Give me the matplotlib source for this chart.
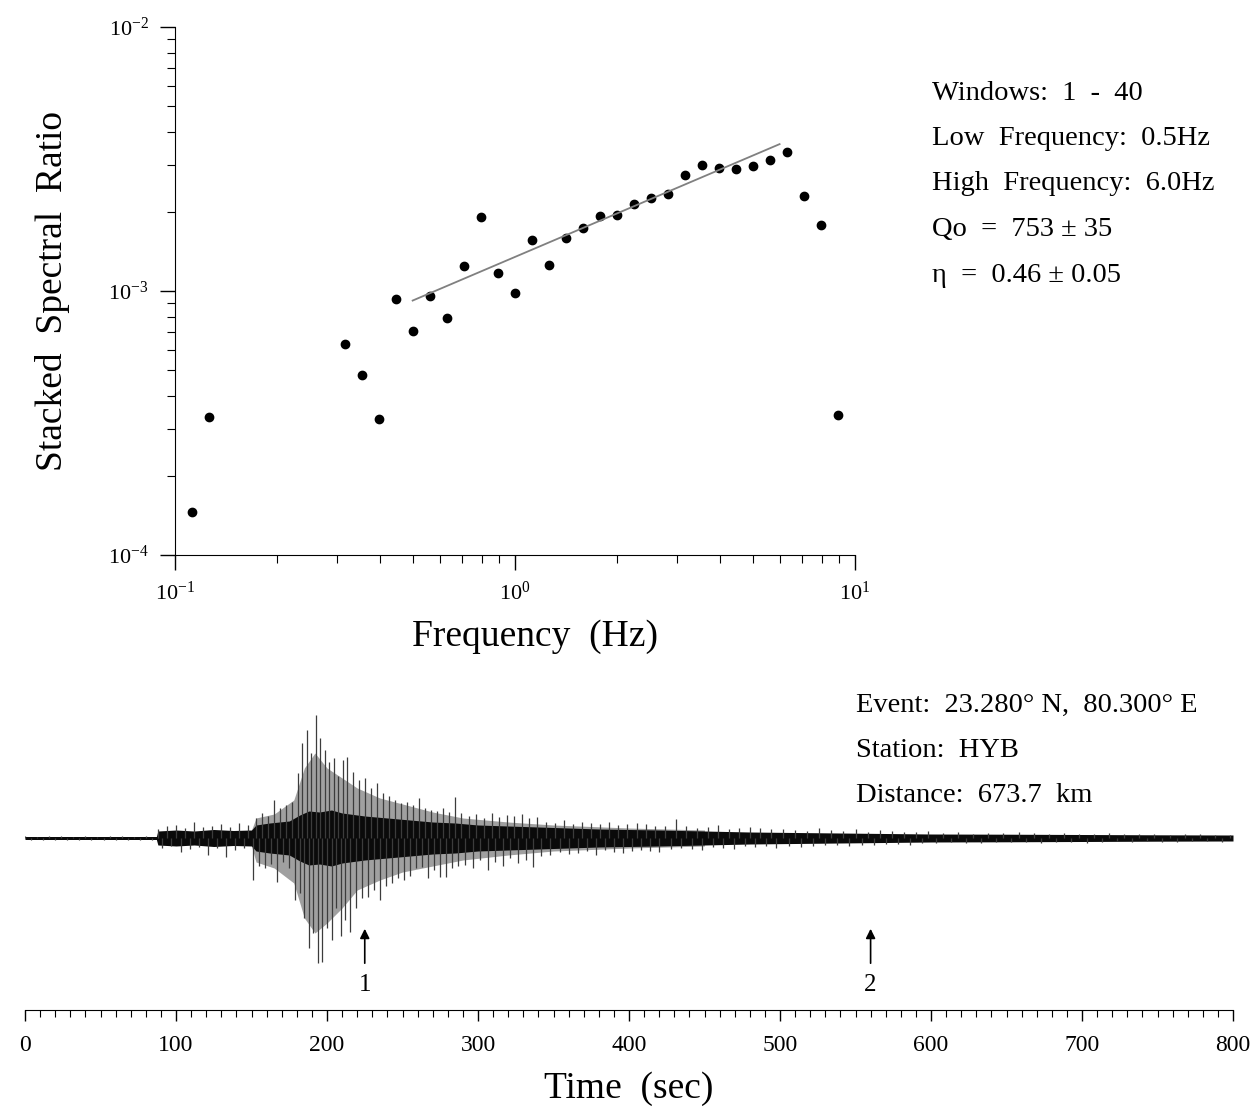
import matplotlib.pyplot as plt
import numpy as np

plt.rcParams['font.family'] = ['Liberation Serif', 'DejaVu Serif']
plt.rcParams['mathtext.fontset'] = 'stix'

# ---- spectral ratio (top panel) ----
freq = [0.112, 0.126, 0.316, 0.355, 0.398, 0.447, 0.501, 0.562, 0.631, 0.708,
        0.794, 0.891, 1.0, 1.122, 1.259, 1.413, 1.585, 1.778, 1.995, 2.239,
        2.512, 2.818, 3.162, 3.548, 3.981, 4.467, 5.012, 5.623, 6.310, 7.079,
        7.943, 8.913]
ratio = [1.45e-4, 3.32e-4, 6.31e-4, 4.82e-4, 3.27e-4, 9.33e-4, 7.04e-4, 9.59e-4,
         7.88e-4, 1.245e-3, 1.91e-3, 1.17e-3, 9.86e-4, 1.56e-3, 1.26e-3, 1.59e-3,
         1.73e-3, 1.93e-3, 1.94e-3, 2.14e-3, 2.26e-3, 2.34e-3, 2.76e-3, 2.99e-3,
         2.92e-3, 2.89e-3, 2.98e-3, 3.13e-3, 3.36e-3, 2.29e-3, 1.78e-3, 3.39e-4]
fit_freq = [0.5, 6.0]
fit_ratio = [9.2e-4, 3.6e-3]

info_top = ['Windows:  1  -  40', 'Low  Frequency:  0.5Hz', 'High  Frequency:  6.0Hz',
            'Qo  =  753 \u00b1 35', '\u03b7  =  0.46 \u00b1 0.05']
info_bottom = ['Event:  23.280\u00b0 N,  80.300\u00b0 E', 'Station:  HYB', 'Distance:  673.7  km']

# ---- seismogram (bottom panel), amplitudes in pixel-ish units ----
# dense black core of the trace
core_t = [0, 87, 88, 100, 112, 125, 138, 150, 153, 162, 175, 182, 188, 195, 203, 210,
          225, 240, 255, 270, 285, 300, 320, 340, 360, 380, 400, 420, 450, 480, 510,
          540, 570, 600, 650, 700, 750, 800]
core_w = [1.5, 1.5, 7, 8, 7, 8.5, 7.5, 8, 13, 15, 17, 23, 27, 26, 28, 25,
          22, 20, 18, 16, 15, 13, 12, 11, 10, 9, 8.5, 8, 7, 6, 5.5,
          5, 4.5, 4, 3.8, 3.5, 3.2, 3]
# grey haze of overlapping strokes around the core
haze_t = [150, 153, 165, 178, 185, 192, 200, 210, 220, 235, 250, 270, 290, 320, 350, 400, 450]
haze_up = [8, 20, 24, 38, 70, 85, 70, 60, 50, 40, 34, 26, 20, 16, 13, 10, 8]
haze_dn = [8, 24, 30, 45, 80, 95, 85, 70, 52, 42, 34, 28, 22, 17, 13, 10, 8]

pre_t = [0, 4, 8, 12, 16, 20, 24, 28, 32, 36, 40, 44, 48, 52, 56, 60, 64, 68, 72, 76, 80, 84]
pre_a = [2, -2, 1.5, -2, 2, -1.5, 2, -2, 1.5, -2, 2, -2, 1.5, -2, 2, -1.5, 2, -2, 1.5, -2, 2, -2]
p_t = [88, 91, 94, 97, 100, 103, 106, 109, 112, 115, 118, 121, 124, 127, 130, 133, 136,
       139, 142, 145, 148]
p_a = [9, -10, 12, -8, 13, -14, 10, -11, 16, -9, 11, -17, 12, -10, 14, -19, 11, -12, 15, -10, 13]
s_t = [151, 153, 155, 157, 159, 161, 163, 165, 167, 169, 171, 173, 175, 177, 179]
s_a = [-42, 20, -28, 25, -30, 22, -26, 38, -44, 30, -24, 33, -30, 36, -62]
peak_t = [180.5, 182, 183.5, 185, 186.5, 188, 189.5, 191, 192.5, 194, 195.5, 197, 198.5,
          200, 201.5, 203, 204.5, 206, 207.5, 209, 210.5, 212, 213.5, 215]
peak_a = [65, -55, 95, -80, 108, -110, 85, -95, 123, -125, 100, -124, 88, -90, 76, -102,
          80, -70, 62, -98, 78, -82, 81, -94]
coda1_t = [217, 219, 221, 223, 225, 227, 229, 231, 233, 235, 237, 239, 241, 243, 245, 247,
           249, 251, 253, 255, 257, 259, 261, 263, 265, 267, 269, 271, 273, 275, 277, 279,
           281, 283, 285, 287, 289]
coda1_a = [66, -70, 58, -60, 60, -59, 50, -52, 55, -62, 45, -48, 42, -45, 38, -40, 35, -42,
           36, -38, 33, -30, 40, -29, 30, -40, 28, -32, 27, -39, 30, -39, 26, -30, 41, -28, 25]
coda2_t = [291.5, 294, 296.5, 299, 301.5, 304, 306.5, 309, 311.5, 314, 316.5, 319, 321.5,
           324, 326.5, 329, 331.5, 334, 336.5, 339]
coda2_a = [-27, 22, -30, 24, -22, 20, -32, 25, -24, 21, -28, 23, -20, 22, -25, 24, -22, 20, -29, 21]
coda3_t = [342, 345, 348, 351, 354, 357, 360, 363, 366, 369, 372, 375, 378, 381, 384, 387,
           390, 393, 396, 399, 402, 405, 408, 411, 414, 417, 420]
coda3_a = [-18, 16, -17, 15, -14, 18, -16, 14, -15, 16, -13, 15, -17, 14, -12, 16, -14, 13,
           -15, 14, -13, 15, -12, 14, -13, 12, -14]
coda4_t = [424, 427.5, 431, 434.5, 438, 441.5, 445, 448.5, 452, 455.5, 459, 462.5, 466,
           469.5, 473, 476.5, 480, 483.5, 487, 490.5, 494, 497.5]
coda4_a = [12, -11, 19, -10, 12, -11, 10, -12, 11, -9, 13, -10, 9, -11, 10, -8, 11, -9, 10, -8, 9, -10]
coda5_t = [502, 506, 510, 514, 518, 522, 526, 530, 534, 538, 542, 546, 550, 554, 558, 562,
           566, 570, 574, 578, 582, 586, 590, 594, 598]
coda5_a = [9, -8, 8, -9, 7, -8, 10, -7, 8, -7, 7, -8, 9, -7, 6, -7, 8, -6, 7, -6, 6, -7, 6, -5, 7]
tail_t = [603, 608, 613, 618, 623, 628, 633, 638, 643, 648, 653, 658, 663, 668, 673, 678,
          683, 688, 693, 698, 703, 708, 713, 718, 723, 728, 733, 738, 743, 748, 753, 758,
          763, 768, 773, 778, 783, 788, 793, 798]
tail_a = [-5, 5, -4, 6, -5, 4, -5, 5, -4, 5, -4, 6, -4, 5, -5, 4, -4, 5, -4, 4, -5, 4, -4, 5,
          -3, 4, -4, 4, -3, 4, -4, 3, -4, 4, -3, 4, -3, 3, -4, 3]

pick_times = [225, 560]
pick_labels = ['1', '2']

trace_t = pre_t + p_t + s_t + peak_t + coda1_t + coda2_t + coda3_t + coda4_t + coda5_t + tail_t
trace_a = pre_a + p_a + s_a + peak_a + coda1_a + coda2_a + coda3_a + coda4_a + coda5_a + tail_a

W, H = 1259, 1110
fig = plt.figure(figsize=(W / 100, H / 100), dpi=100)

# top panel
ax1 = fig.add_axes([175 / W, 1 - 555 / H, 680 / W, 528 / H])
ax1.set_xscale('log')
ax1.set_yscale('log')
ax1.plot(freq, ratio, 'o', color='black', ms=6, clip_on=False)
ax1.plot(fit_freq, fit_ratio, color='#808080', lw=1.3)
ax1.set_xlim(0.1, 10)
ax1.set_ylim(1e-4, 1e-2)
ax1.spines['top'].set_visible(False)
ax1.spines['right'].set_visible(False)
ax1.tick_params(which='major', direction='out', length=11, width=1, labelsize=16, pad=8)
ax1.tick_params(which='minor', direction='out', length=6, width=0.8)
ax1.set_ylabel('Stacked  Spectral  Ratio', fontsize=27)
ax1.yaxis.set_label_coords(-0.155, 0.5)
ax1.set_xlabel('Frequency  (Hz)', fontsize=27)
ax1.xaxis.label.set_va('center')
ax1.xaxis.set_label_coords(0.53, -0.155)

for i, s in enumerate(info_top):
    fig.text(932 / W, 1 - (93 + 45.5 * i) / H, s, fontsize=20.5, va='center', ha='left')
for i, s in enumerate(info_bottom):
    fig.text(856 / W, 1 - (705 + 45.5 * i) / H, s, fontsize=20.5, va='center', ha='left')

# bottom panel
ax2 = fig.add_axes([25 / W, 1 - 1010 / H, 1208 / W, 320 / H])
ax2.fill_between(haze_t, [-d for d in haze_dn], haze_up, color='#a0a0a0', lw=0)
ax2.vlines(trace_t, 0, trace_a, color='#3c3c3c', lw=0.9)
ax2.fill_between(core_t, [-w for w in core_w], core_w, color='#0a0a0a', lw=0)
ax2.set_xlim(0, 800)
ax2.set_ylim(-172, 148)
for side in ['top', 'right', 'left']:
    ax2.spines[side].set_visible(False)
ax2.set_yticks([])
ax2.set_xticks(np.arange(0, 801, 100))
ax2.set_xticks(np.arange(0, 801, 10), minor=True)
ax2.tick_params(which='major', direction='out', length=8, width=1, labelsize=17, pad=10)
ax2.tick_params(which='minor', direction='out', length=5, width=0.8)
ax2.set_xlabel('Time  (sec)', fontsize=27)
ax2.xaxis.label.set_va('center')
ax2.xaxis.set_label_coords(0.5, -0.245)

for t, lab in zip(pick_times, pick_labels):
    ax2.annotate('', xy=(t, -88), xytext=(t, -128),
                 arrowprops=dict(arrowstyle='-|>', color='black', lw=1.2, mutation_scale=14))
    ax2.text(t, -147, lab, ha='center', va='center', fontsize=18)

fig.savefig('out.png', dpi=100)
